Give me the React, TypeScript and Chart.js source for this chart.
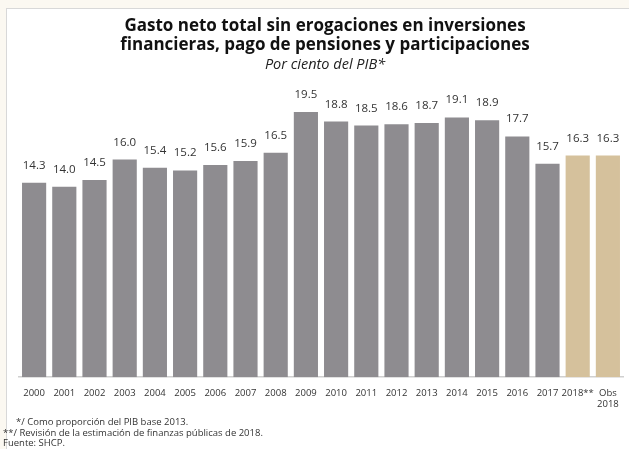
import React, { useEffect, useRef } from "react";
import { Chart, registerables } from "chart.js";

Chart.register(...registerables);

const categories: (string | string[])[] = [
  "2000", "2001", "2002", "2003", "2004", "2005", "2006", "2007", "2008", "2009",
  "2010", "2011", "2012", "2013", "2014", "2015", "2016", "2017", "2018**", ["Obs", "2018"],
];
const values: number[] = [
  14.3, 14.0, 14.5, 16.0, 15.4, 15.2, 15.6, 15.9, 16.5, 19.5,
  18.8, 18.5, 18.6, 18.7, 19.1, 18.9, 17.7, 15.7, 16.3, 16.3,
];
const barColors: string[] = values.map((_, i) => (i >= 18 ? "#d5c19c" : "#8e8c90"));
const titleLines: string[] = [
  "Gasto neto total sin erogaciones en inversiones",
  "financieras, pago de pensiones y participaciones",
];
const subtitleText = "Por ciento del PIB*";
const footnotes: string[] = [
  "*/ Como proporción del PIB base 2013.",
  "**/ Revisión de la estimación de finanzas públicas de 2018.",
  "Fuente: SHCP.",
];

const FONT = "'Open Sans', 'Noto Sans', sans-serif";

const valueLabels = {
  id: "valueLabels",
  afterDatasetsDraw(chart: any) {
    const ctx = chart.ctx;
    const meta = chart.getDatasetMeta(0);
    ctx.save();
    ctx.font = `11.5px ${FONT}`;
    ctx.fillStyle = "#333";
    ctx.textAlign = "center";
    ctx.textBaseline = "alphabetic";
    meta.data.forEach((bar: any, i: number) => {
      ctx.fillText(values[i].toFixed(1), bar.x, bar.y - 14);
    });
    ctx.restore();
  },
};

const textPlugin = {
  id: "texts",
  afterDraw(chart: any) {
    const ctx = chart.ctx;
    ctx.save();
    ctx.fillStyle = "#111";
    ctx.textAlign = "center";
    ctx.textBaseline = "alphabetic";
    ctx.font = `bold 17px ${FONT}`;
    ctx.fillText(titleLines[0], 325, 31);
    ctx.fillText(titleLines[1], 325, 50);
    ctx.fillStyle = "#222";
    ctx.font = `italic 14.5px ${FONT}`;
    ctx.fillText(subtitleText, 325, 69);

    ctx.fillStyle = "#333";
    ctx.textAlign = "left";
    ctx.font = `9.5px ${FONT}`;
    ctx.fillText(footnotes[0], 16, 425);
    ctx.fillText(footnotes[1], 3, 435.5);
    ctx.fillText(footnotes[2], 3, 446);
    ctx.restore();
  },
};

export default function App() {
  const ref = useRef<HTMLCanvasElement>(null);
  useEffect(() => {
    document.body.style.margin = "0";
    const chart = new Chart(ref.current!, {
      type: "bar",
      data: {
        labels: categories as any,
        datasets: [
          {
            data: values,
            backgroundColor: barColors,
            barPercentage: 0.8,
            categoryPercentage: 1,
          },
        ],
      },
      options: {
        animation: false,
        responsive: false,
        layout: { padding: { left: 19, right: 6, top: 78, bottom: 29 } },
        plugins: {
          legend: { display: false },
          tooltip: { enabled: false },
          title: { display: false },
        },
        scales: {
          y: { display: false, min: 0, max: 22 },
          x: {
            grid: { display: false, drawTicks: false },
            border: { display: true, color: "#d0d0d0", width: 1.5 },
            ticks: {
              color: "#333",
              font: { family: FONT, size: 9.5, lineHeight: 1.2 },
              padding: 10,
              maxRotation: 0,
              autoSkip: false,
            },
          },
        },
      },
      plugins: [valueLabels, textPlugin],
    });
    return () => chart.destroy();
  }, []);
  return (
    <div style={{ position: "fixed", left: 0, top: 0, width: 629, height: 449, background: "#fbf8f1" }}>
      <div
        style={{
          position: "absolute",
          left: 6,
          top: 8,
          width: 623,
          height: 441,
          background: "#fff",
          borderLeft: "1.5px solid #d8d8d8",
          borderTop: "1.5px solid #d8d8d8",
          boxSizing: "border-box",
        }}
      />
      <canvas ref={ref} width={629} height={449} style={{ position: "absolute", left: 0, top: 0 }} />
    </div>
  );
}
